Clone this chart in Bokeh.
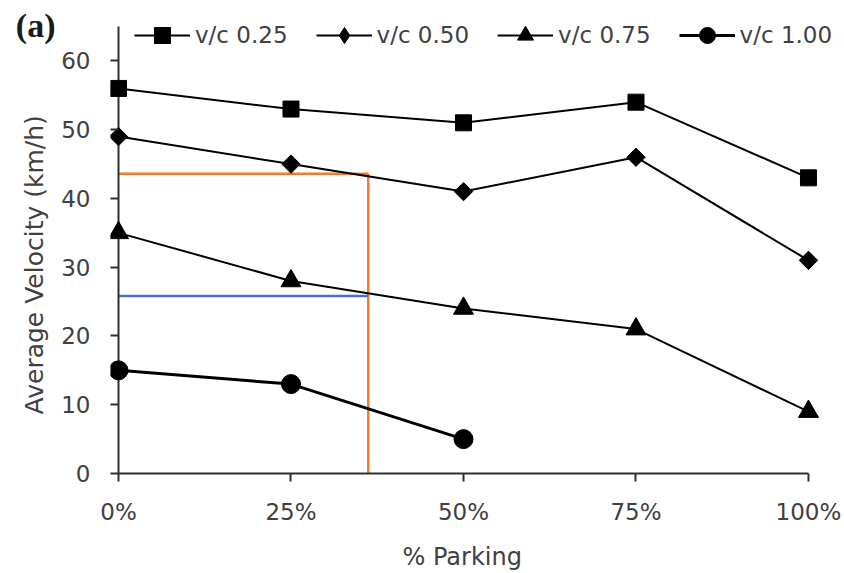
import math
from bokeh.plotting import figure
from bokeh.models import Legend, FixedTicker, Range1d, LinearAxis
from bokeh.embed import file_html
from bokeh.resources import INLINE

# ---- data ----
parking = [0, 25, 50, 75, 100]
vc025 = [56, 53, 51, 54, 43]
vc050 = [49, 45, 41, 46, 31]
vc075 = [35, 28, 24, 21, 9]
parking_100 = [0, 25, 50]
vc100 = [15, 13, 5]

x_ticks = [0, 25, 50, 75, 100]
x_tick_labels = ["0%", "25%", "50%", "75%", "100%"]
y_ticks = [0, 10, 20, 30, 40, 50, 60]
y_axis_top = 65

ref_parking = 36.2
ref_orange = 43.6
ref_blue = 25.8

panel_tag = "(a)"
panel_tag_y = 65.2

FONT = "DejaVu Sans"
TXT = "#404040"
AX = "#303030"
NBSP = "\u00a0"

p = figure(width=844, height=573, output_backend="svg", toolbar_location=None,
           x_range=Range1d(-1.16, 105.22), y_range=Range1d(0, 68.79),
           min_border_left=110, min_border_right=0, min_border_top=0, min_border_bottom=98)
p.title.visible = False
p.outline_line_color = None
p.grid.grid_line_color = None
p.background_fill_color = "white"
# off-screen range used only so the legend can show a diamond swatch
p.extra_y_ranges = {"legend_only": Range1d(1000, 1001)}

# reference lines
p.line([0, ref_parking], [ref_orange, ref_orange], line_color="#ED7D31", line_width=2.5)
p.line([ref_parking, ref_parking], [ref_orange, 0], line_color="#ED7D31", line_width=2.5)
p.line([0, ref_parking], [ref_blue, ref_blue], line_color="#4472C4", line_width=2.5)

# y axis line at x = 0
p.line([0, 0], [0, y_axis_top], line_color=AX, line_width=2)

r1l = p.line(parking, vc025, line_color="black", line_width=2)
r1m = p.scatter(parking, vc025, marker="square", size=16, color="black")
r2l = p.line(parking, vc050, line_color="black", line_width=2)
r2m = p.scatter(parking, vc050, marker="square", angle=math.pi / 4, size=13, color="black")
r3l = p.line(parking, vc075, line_color="black", line_width=2)
r3m = p.scatter(parking, vc075, marker="triangle", size=20, color="black")
r4l = p.line(parking_100, vc100, line_color="black", line_width=3)
r4m = p.scatter(parking_100, vc100, marker="circle", size=19, color="black")

# legend swatch for the diamond series (drawn outside the visible range)
r2_leg = p.scatter(parking, vc050, marker="diamond", size=13, color="black",
                   y_range_name="legend_only")

legend = Legend(items=[("v/c 0.25", [r1l, r1m]), ("v/c 0.50", [r2l, r2_leg]),
                       ("v/c 0.75", [r3l, r3m]), ("v/c 1.00", [r4l, r4m])],
                orientation="horizontal", location=(24, 418),
                glyph_width=56, glyph_height=40, label_standoff=5, spacing=28,
                padding=0, margin=0, border_line_color=None, background_fill_alpha=0,
                label_text_font=FONT, label_text_font_size="23px", label_text_color=TXT)
p.add_layout(legend, "center")

# axes
xa = p.xaxis[0]
xa.ticker = FixedTicker(ticks=x_ticks)
xa.major_label_overrides = {t: l for t, l in zip(x_ticks, x_tick_labels)}
xa.bounds = (0, 100)
xa.axis_line_color = AX
xa.axis_line_width = 2
xa.major_tick_line_color = AX
xa.major_tick_line_width = 2
xa.major_tick_out = 8
xa.major_tick_in = 0
xa.minor_tick_line_color = None
xa.major_label_standoff = 17
xa.major_label_text_font = FONT
xa.major_label_text_font_size = "23px"
xa.major_label_text_color = TXT
xa.axis_label = "% Parking" + NBSP * 4
xa.axis_label_text_font = FONT
xa.axis_label_text_font_size = "24px"
xa.axis_label_text_font_style = "normal"
xa.axis_label_text_color = TXT
xa.axis_label_standoff = 15

ya = p.yaxis[0]
ya.ticker = FixedTicker(ticks=y_ticks)
ya.axis_line_alpha = 0
ya.major_tick_line_color = AX
ya.major_tick_line_width = 2
ya.major_tick_in = 8
ya.major_tick_out = 0
ya.minor_tick_line_color = None
ya.major_label_standoff = 20
ya.major_label_text_font = FONT
ya.major_label_text_font_size = "23px"
ya.major_label_text_color = TXT
ya.axis_label = "Average Velocity (km/h)" + NBSP * 7
ya.axis_label_text_font = FONT
ya.axis_label_text_font_size = "25px"
ya.axis_label_text_font_style = "normal"
ya.axis_label_text_color = TXT
ya.axis_label_standoff = 9

# panel tag "(a)" drawn as the single label of an extra left axis
tag_axis = LinearAxis(ticker=FixedTicker(ticks=[panel_tag_y]),
                      major_label_overrides={panel_tag_y: panel_tag})
tag_axis.axis_line_color = None
tag_axis.major_tick_line_color = None
tag_axis.minor_tick_line_color = None
tag_axis.major_tick_out = 0
tag_axis.major_tick_in = 0
tag_axis.major_label_standoff = -38
tag_axis.major_label_text_font = "Liberation Serif"
tag_axis.major_label_text_font_style = "bold"
tag_axis.major_label_text_font_size = "34px"
tag_axis.major_label_text_color = "#1a1a1a"
p.add_layout(tag_axis, "left")

open("out.html", "w").write(file_html(p, INLINE))
